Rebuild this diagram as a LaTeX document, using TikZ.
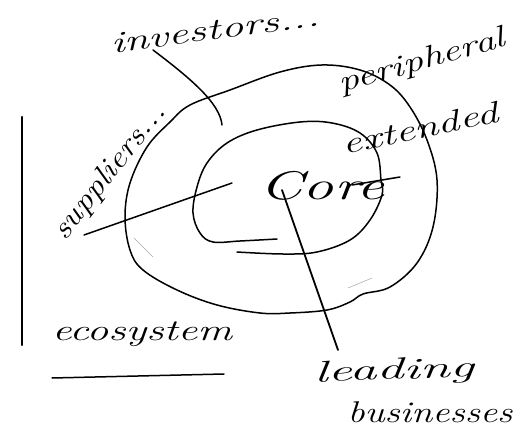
\documentclass[tikz,border=0pt]{standalone}
\usepackage{graphicx}
\newcommand\handw[2]{\resizebox{#1}{\height}{#2}}
\begin{document}
\begin{tikzpicture}[x=1pt,y=-1pt,
  ink/.style={line width=1.5pt, line cap=round, line join=round},
  faint/.style={line width=0.5pt, gray!70},
  hand/.style={font=\itshape\fontsize{30}{32}\selectfont, inner sep=0pt},
  bighand/.style={font=\itshape\fontsize{40}{42}\selectfont, inner sep=0pt}]
\useasboundingbox (0,0) rectangle (522,433);

% vertical bar
\coordinate (barTop) at (22,117);
\coordinate (barBot) at (22,345);
\draw[line width=2.4pt, line cap=round] (barTop) -- (barBot);

% outer ring
\draw[ink] plot[smooth cycle, tension=0.6] coordinates {
  (125,217) (130,183) (147,147) (170,122) (190,105) (230,90) (280,72) (322,65)
  (360,70) (390,85) (410,107) (427,140) (437,180) (433,227) (417,263) (390,287)
  (363,294) (350,302) (327,310) (290,313) (260,313) (217,305) (177,290) (143,270) (130,250)};

% inner spiral
\draw[ink] plot[smooth, tension=0.6] coordinates {
  (277,239) (240,241) (213,242) (200,233) (193,213) (197,187) (207,163) (227,143)
  (257,130) (300,122) (332,123) (360,133) (377,153) (381,180) (382,195) (370,220)
  (350,240) (317,252) (283,254) (237,252)};

% faint strokes
\draw[faint] (134,238) -- (153,257);
\draw[faint] (348,288) -- (372,278);

% labels
\node[hand, rotate=7.5] (inv) at (215,30) {\handw{210pt}{investors...}};
\node[hand, rotate=16] (peri) at (422,62) {\handw{172pt}{peripheral}};
\node[hand, rotate=12] (ext) at (420,128) {\handw{158pt}{extended}};
\node[hand, rotate=52] (sup) at (110,172) {\handw{165pt}{suppliers...}};
\node[bighand] (core) at (322,186) {\handw{125pt}{Core}};
\node[hand] (eco) at (142,334) {\handw{180pt}{ecosystem}};
\node[hand, rotate=2] (lead) at (394,372) {\handw{160pt}{leading}};
\node[hand] (bus) at (430,412) {\handw{165pt}{businesses}};

% connectors
\coordinate (invStart) at (153,50);
\coordinate (invEnd) at (222,125);
\draw[ink] (invStart) .. controls (190,78) and (220,103) .. (invEnd);

\coordinate (supStart) at (84,235);
\coordinate (supEnd) at (232,183);
\draw[ink] (supStart) -- (supEnd);

\coordinate (coreLine) at (282,190);
\coordinate (leadTop) at (338,350);
\draw[ink, line width=1.8pt] (coreLine) -- (leadTop);

\coordinate (tailA) at (352,185);
\coordinate (tailB) at (400,177);
\draw[ink] (tailA) -- (tailB);

\coordinate (ulA) at (52,378);
\coordinate (ulB) at (224,374);
\draw[ink] (ulA) -- (ulB);
\end{tikzpicture}
\end{document}
